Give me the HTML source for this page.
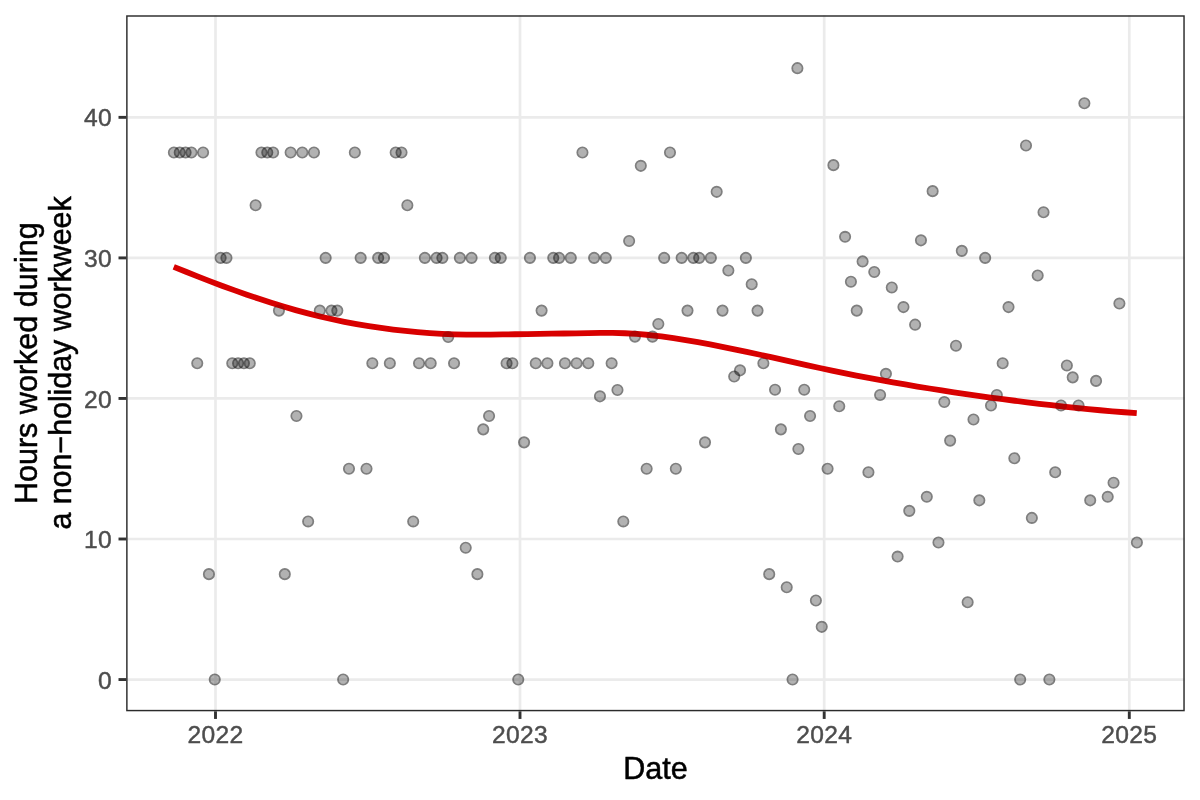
<!DOCTYPE html>
<html lang="en"><head><meta charset="utf-8"><title>Hours worked during a non-holiday workweek</title>
<style>
html,body{margin:0;padding:0;background:#fff}
svg{display:block;will-change:transform}
text{font-family:"Liberation Sans",Arial,Helvetica,sans-serif}
.tk{font-size:24.6px;letter-spacing:.35px;fill:#4d4d4d;stroke:#4d4d4d;stroke-width:.45px}
.tt{font-size:30.56px;fill:#000;stroke:#000;stroke-width:.5px}
</style></head><body>
<svg width="1200" height="800" viewBox="0 0 1200 800">
<rect width="1200" height="800" fill="#fff"/>
<defs><g id="p"><circle r="4.2" fill="#000" fill-opacity=".3"/><circle r="5.12" fill="none" stroke="#000" stroke-opacity=".5" stroke-width="1.85"/></g></defs>

<g stroke="#ebebeb" stroke-width="2.7" fill="none">
<line x1="215.50" y1="15.28" x2="215.50" y2="711.30"/>
<line x1="520.00" y1="15.28" x2="520.00" y2="711.30"/>
<line x1="824.20" y1="15.28" x2="824.20" y2="711.30"/>
<line x1="1129.30" y1="15.28" x2="1129.30" y2="711.30"/>
<line x1="126.15" y1="679.55" x2="1184.75" y2="679.55"/>
<line x1="126.15" y1="539.00" x2="1184.75" y2="539.00"/>
<line x1="126.15" y1="398.45" x2="1184.75" y2="398.45"/>
<line x1="126.15" y1="257.90" x2="1184.75" y2="257.90"/>
<line x1="126.15" y1="117.35" x2="1184.75" y2="117.35"/>
</g>
<g>
<use href="#p" x="173.90" y="152.49"/>
<use href="#p" x="179.74" y="152.49"/>
<use href="#p" x="185.57" y="152.49"/>
<use href="#p" x="191.41" y="152.49"/>
<use href="#p" x="197.25" y="363.31"/>
<use href="#p" x="203.08" y="152.49"/>
<use href="#p" x="208.92" y="574.14"/>
<use href="#p" x="214.75" y="679.55"/>
<use href="#p" x="220.59" y="257.90"/>
<use href="#p" x="226.43" y="257.90"/>
<use href="#p" x="232.26" y="363.31"/>
<use href="#p" x="238.10" y="363.31"/>
<use href="#p" x="243.94" y="363.31"/>
<use href="#p" x="249.77" y="363.31"/>
<use href="#p" x="255.61" y="205.19"/>
<use href="#p" x="261.45" y="152.49"/>
<use href="#p" x="267.28" y="152.49"/>
<use href="#p" x="273.12" y="152.49"/>
<use href="#p" x="278.96" y="310.61"/>
<use href="#p" x="284.79" y="574.14"/>
<use href="#p" x="290.63" y="152.49"/>
<use href="#p" x="296.46" y="416.02"/>
<use href="#p" x="302.30" y="152.49"/>
<use href="#p" x="308.14" y="521.43"/>
<use href="#p" x="313.97" y="152.49"/>
<use href="#p" x="319.81" y="310.61"/>
<use href="#p" x="325.65" y="257.90"/>
<use href="#p" x="331.48" y="310.61"/>
<use href="#p" x="337.32" y="310.61"/>
<use href="#p" x="343.16" y="679.55"/>
<use href="#p" x="348.99" y="468.72"/>
<use href="#p" x="354.83" y="152.49"/>
<use href="#p" x="360.66" y="257.90"/>
<use href="#p" x="366.50" y="468.72"/>
<use href="#p" x="372.34" y="363.31"/>
<use href="#p" x="378.17" y="257.90"/>
<use href="#p" x="384.01" y="257.90"/>
<use href="#p" x="389.85" y="363.31"/>
<use href="#p" x="395.68" y="152.49"/>
<use href="#p" x="401.52" y="152.49"/>
<use href="#p" x="407.36" y="205.19"/>
<use href="#p" x="413.19" y="521.43"/>
<use href="#p" x="419.03" y="363.31"/>
<use href="#p" x="424.87" y="257.90"/>
<use href="#p" x="430.70" y="363.31"/>
<use href="#p" x="436.54" y="257.90"/>
<use href="#p" x="442.37" y="257.90"/>
<use href="#p" x="448.21" y="336.96"/>
<use href="#p" x="454.05" y="363.31"/>
<use href="#p" x="459.88" y="257.90"/>
<use href="#p" x="465.72" y="547.78"/>
<use href="#p" x="471.56" y="257.90"/>
<use href="#p" x="477.39" y="574.14"/>
<use href="#p" x="483.23" y="429.37"/>
<use href="#p" x="489.07" y="416.02"/>
<use href="#p" x="494.90" y="257.90"/>
<use href="#p" x="500.74" y="257.90"/>
<use href="#p" x="506.57" y="363.31"/>
<use href="#p" x="512.41" y="363.31"/>
<use href="#p" x="518.25" y="679.55"/>
<use href="#p" x="524.08" y="442.37"/>
<use href="#p" x="529.92" y="257.90"/>
<use href="#p" x="535.76" y="363.31"/>
<use href="#p" x="541.59" y="310.61"/>
<use href="#p" x="547.43" y="363.31"/>
<use href="#p" x="553.27" y="257.90"/>
<use href="#p" x="559.10" y="257.90"/>
<use href="#p" x="564.94" y="363.31"/>
<use href="#p" x="570.78" y="257.90"/>
<use href="#p" x="576.61" y="363.31"/>
<use href="#p" x="582.45" y="152.49"/>
<use href="#p" x="588.28" y="363.31"/>
<use href="#p" x="594.12" y="257.90"/>
<use href="#p" x="599.96" y="396.34"/>
<use href="#p" x="605.79" y="257.90"/>
<use href="#p" x="611.63" y="363.31"/>
<use href="#p" x="617.47" y="390.02"/>
<use href="#p" x="623.30" y="521.43"/>
<use href="#p" x="629.14" y="241.03"/>
<use href="#p" x="634.98" y="336.61"/>
<use href="#p" x="640.81" y="165.84"/>
<use href="#p" x="646.65" y="468.72"/>
<use href="#p" x="652.48" y="336.61"/>
<use href="#p" x="658.32" y="323.96"/>
<use href="#p" x="664.16" y="257.90"/>
<use href="#p" x="669.99" y="152.49"/>
<use href="#p" x="675.83" y="468.72"/>
<use href="#p" x="681.67" y="257.90"/>
<use href="#p" x="687.50" y="310.61"/>
<use href="#p" x="693.34" y="257.90"/>
<use href="#p" x="699.18" y="257.90"/>
<use href="#p" x="705.01" y="442.37"/>
<use href="#p" x="710.85" y="257.90"/>
<use href="#p" x="716.69" y="191.84"/>
<use href="#p" x="722.52" y="310.61"/>
<use href="#p" x="728.36" y="270.55"/>
<use href="#p" x="734.19" y="376.52"/>
<use href="#p" x="740.03" y="370.34"/>
<use href="#p" x="745.87" y="257.90"/>
<use href="#p" x="751.70" y="284.25"/>
<use href="#p" x="757.54" y="310.61"/>
<use href="#p" x="763.38" y="363.31"/>
<use href="#p" x="769.21" y="574.14"/>
<use href="#p" x="775.05" y="389.67"/>
<use href="#p" x="780.89" y="429.37"/>
<use href="#p" x="786.72" y="587.31"/>
<use href="#p" x="792.56" y="679.55"/>
<use href="#p" x="798.39" y="449.05"/>
<use href="#p" x="804.23" y="389.67"/>
<use href="#p" x="810.07" y="416.02"/>
<use href="#p" x="815.90" y="600.49"/>
<use href="#p" x="821.74" y="626.84"/>
<use href="#p" x="827.58" y="468.72"/>
<use href="#p" x="833.41" y="165.14"/>
<use href="#p" x="839.25" y="406.18"/>
<use href="#p" x="845.09" y="236.82"/>
<use href="#p" x="850.92" y="281.79"/>
<use href="#p" x="856.76" y="310.61"/>
<use href="#p" x="862.60" y="261.41"/>
<use href="#p" x="868.43" y="472.24"/>
<use href="#p" x="874.27" y="271.95"/>
<use href="#p" x="880.10" y="394.94"/>
<use href="#p" x="885.94" y="373.85"/>
<use href="#p" x="891.78" y="287.42"/>
<use href="#p" x="897.61" y="556.57"/>
<use href="#p" x="903.45" y="307.09"/>
<use href="#p" x="909.29" y="510.89"/>
<use href="#p" x="915.12" y="324.66"/>
<use href="#p" x="920.96" y="240.33"/>
<use href="#p" x="926.80" y="496.83"/>
<use href="#p" x="932.63" y="191.14"/>
<use href="#p" x="938.47" y="542.51"/>
<use href="#p" x="944.30" y="401.96"/>
<use href="#p" x="950.14" y="440.61"/>
<use href="#p" x="955.98" y="345.74"/>
<use href="#p" x="961.81" y="250.87"/>
<use href="#p" x="967.65" y="602.25"/>
<use href="#p" x="973.49" y="419.53"/>
<use href="#p" x="979.32" y="500.35"/>
<use href="#p" x="985.16" y="257.90"/>
<use href="#p" x="991.00" y="405.48"/>
<use href="#p" x="996.83" y="394.94"/>
<use href="#p" x="1002.67" y="363.31"/>
<use href="#p" x="1008.51" y="307.09"/>
<use href="#p" x="1014.34" y="458.18"/>
<use href="#p" x="1020.18" y="679.55"/>
<use href="#p" x="1026.01" y="145.46"/>
<use href="#p" x="1031.85" y="517.92"/>
<use href="#p" x="1037.69" y="275.47"/>
<use href="#p" x="1043.52" y="212.22"/>
<use href="#p" x="1049.36" y="679.55"/>
<use href="#p" x="1055.20" y="472.24"/>
<use href="#p" x="1061.03" y="405.48"/>
<use href="#p" x="1066.87" y="365.42"/>
<use href="#p" x="1072.71" y="377.37"/>
<use href="#p" x="1078.54" y="405.48"/>
<use href="#p" x="1084.38" y="103.29"/>
<use href="#p" x="1090.21" y="500.35"/>
<use href="#p" x="1096.05" y="380.88"/>
<use href="#p" x="1107.72" y="496.83"/>
<use href="#p" x="1113.56" y="482.78"/>
<use href="#p" x="1119.40" y="303.58"/>
<use href="#p" x="1136.91" y="542.51"/>
<use href="#p" x="797.40" y="68.16"/>
</g>
<defs><path id="sm" d="M173.75 266.88L185.94 271.80L198.13 276.62L210.32 281.34L222.51 285.94L234.70 290.40L246.89 294.71L259.08 298.85L271.27 302.81L283.46 306.57L295.65 310.11L307.84 313.42L320.03 316.48L332.22 319.28L344.41 321.81L356.60 324.08L368.79 326.11L380.98 327.91L393.17 329.51L405.36 330.92L417.55 332.12L429.74 333.11L441.93 333.83L454.12 334.30L466.31 334.53L478.50 334.59L490.69 334.53L502.88 334.40L515.07 334.23L527.26 334.07L539.45 333.90L551.64 333.72L563.83 333.52L576.02 333.29L588.21 333.05L600.40 332.90L612.59 332.92L624.78 333.23L636.97 333.92L649.16 335.01L661.34 336.43L673.53 338.14L685.72 340.07L697.91 342.18L710.10 344.43L722.29 346.81L734.48 349.30L746.67 351.87L758.86 354.51L771.05 357.19L783.24 359.90L795.43 362.62L807.62 365.31L819.81 367.98L832.00 370.58L844.19 373.11L856.38 375.55L868.57 377.90L880.76 380.17L892.95 382.37L905.14 384.48L917.33 386.53L929.52 388.51L941.71 390.42L953.90 392.28L966.09 394.07L978.28 395.81L990.47 397.51L1002.66 399.15L1014.85 400.75L1027.04 402.30L1039.23 403.79L1051.42 405.22L1063.61 406.59L1075.80 407.88L1087.99 409.10L1100.18 410.24L1112.37 411.28L1124.56 412.24L1136.75 413.10"/></defs>
<use href="#sm" fill="none" stroke="#d80000" stroke-width="5.8" stroke-linejoin="round"/>
<mask id="lm" maskUnits="userSpaceOnUse" x="0" y="0" width="1200" height="800"><use href="#sm" fill="none" stroke="#fff" stroke-width="5.8" stroke-linejoin="round"/></mask>
<g mask="url(#lm)" fill="#000" fill-opacity=".16">
<circle cx="278.96" cy="310.61" r="6"/>
<circle cx="319.81" cy="310.61" r="6"/>
<circle cx="331.48" cy="310.61" r="6"/>
<circle cx="448.21" cy="336.96" r="6"/>
<circle cx="634.98" cy="336.61" r="6"/>
<circle cx="652.48" cy="336.61" r="6"/>
<circle cx="763.38" cy="363.31" r="6"/>
<circle cx="885.94" cy="373.85" r="6"/>
<circle cx="991.00" cy="405.48" r="6"/>
<circle cx="996.83" cy="394.94" r="6"/>
<circle cx="1061.03" cy="405.48" r="6"/>
<circle cx="1078.54" cy="405.48" r="6"/>
</g>
<rect x="126.88" y="16.00" width="1057.15" height="694.57" fill="none" stroke="#2b2b2b" stroke-width="1.45"/>
<g stroke="#333" stroke-width="2.9">
<line x1="215.50" y1="711.30" x2="215.50" y2="718.94"/>
<line x1="520.00" y1="711.30" x2="520.00" y2="718.94"/>
<line x1="824.20" y1="711.30" x2="824.20" y2="718.94"/>
<line x1="1129.30" y1="711.30" x2="1129.30" y2="718.94"/>
<line x1="118.51" y1="679.55" x2="126.15" y2="679.55"/>
<line x1="118.51" y1="539.00" x2="126.15" y2="539.00"/>
<line x1="118.51" y1="398.45" x2="126.15" y2="398.45"/>
<line x1="118.51" y1="257.90" x2="126.15" y2="257.90"/>
<line x1="118.51" y1="117.35" x2="126.15" y2="117.35"/>
</g>
<text class="tk" x="215.50" y="743.4" text-anchor="middle">2022</text>
<text class="tk" x="520.00" y="743.4" text-anchor="middle">2023</text>
<text class="tk" x="824.20" y="743.4" text-anchor="middle">2024</text>
<text class="tk" x="1129.30" y="743.4" text-anchor="middle">2025</text>
<text class="tk" x="112.0" y="688.65" text-anchor="end">0</text>
<text class="tk" x="112.0" y="548.10" text-anchor="end">10</text>
<text class="tk" x="112.0" y="407.55" text-anchor="end">20</text>
<text class="tk" x="112.0" y="267.00" text-anchor="end">30</text>
<text class="tk" x="112.0" y="126.45" text-anchor="end">40</text>
<text class="tt" x="655.4" y="778.5" text-anchor="middle">Date</text>
<text class="tt" transform="translate(36.9 363.2) rotate(-90)" text-anchor="middle">Hours worked during</text>
<text class="tt" transform="translate(70.5 362.9) rotate(-90)" text-anchor="middle" textLength="333.4" lengthAdjust="spacing">a non−holiday workweek</text>
</svg></body></html>
